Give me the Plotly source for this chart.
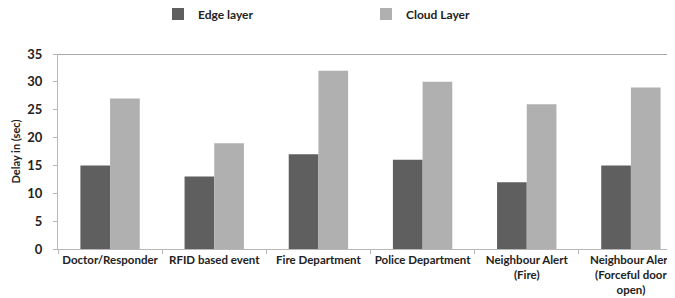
import plotly.graph_objects as go

categories = ["Doctor/Responder", "RFID based event", "Fire Department", "Police Department",
              "Neighbour Alert<br>(Fire)", "Neighbour Alert<br>(Forceful door<br>open)"]
edge_layer = [15, 13, 17, 16, 12, 15]
cloud_layer = [27, 19, 32, 30, 26, 29]
y_ticks = [0, 5, 10, 15, 20, 25, 30, 35]

font_family = "Lato, 'Open Sans', sans-serif"

fig = go.Figure()
fig.add_trace(go.Bar(name="Edge layer", x=categories, y=edge_layer,
                     marker=dict(color="#5f5f5f", line=dict(width=0))))
fig.add_trace(go.Bar(name="Cloud Layer", x=categories, y=cloud_layer,
                     marker=dict(color="#b0b0b0", line=dict(width=0))))

fig.update_layout(
    width=675, height=298,
    margin=dict(l=50, r=0, t=46, b=57),
    paper_bgcolor="white", plot_bgcolor="white",
    barmode="group", bargap=0.43, bargroupgap=0,
    font=dict(family=font_family, color="#222222"),
    legend=dict(orientation="h", xref="container", yref="container",
                x=150/675, y=1-6/298, xanchor="left", yanchor="middle",
                entrywidth=163, entrywidthmode="pixels",
                font=dict(size=12, weight="bold"), itemclick=False),
    xaxis=dict(showline=True, linecolor="#b8b8b8", linewidth=1, mirror=False,
               ticks="outside", ticklen=4, tickcolor="#b8b8b8", tickson="boundaries",
               tickangle=0,
               tickfont=dict(size=11.5, weight="bold"), showgrid=False, fixedrange=True),
    yaxis=dict(range=[0, 35], tickvals=y_ticks, showline=True, linecolor="#b8b8b8",
               ticks="outside", ticklen=4, tickcolor="#b8b8b8", ticklabelstandoff=8,
               showgrid=False, zeroline=False,
               tickfont=dict(size=13, weight="bold"),
               title=dict(text="Delay in (sec)", font=dict(size=11, weight="bold"), standoff=4)),
)
fig.add_hline(y=35, line=dict(color="#a8a8a8", width=2))

fig.write_html("out.html")
